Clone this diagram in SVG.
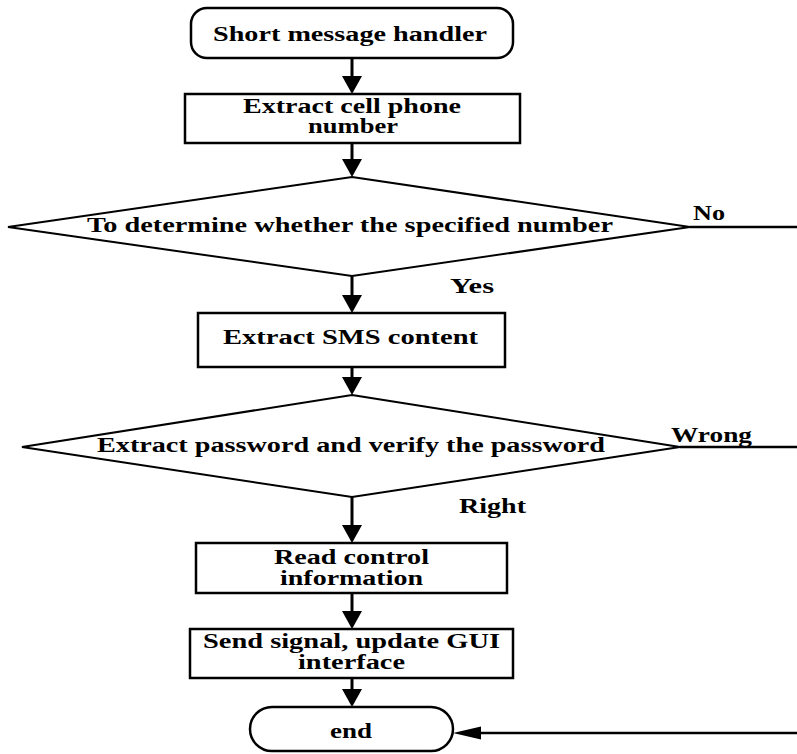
<svg xmlns="http://www.w3.org/2000/svg" width="797" height="754" viewBox="0 0 797 754">
<style>
.shape{fill:#fff;stroke:#000;stroke-width:2.5}
.dia{fill:#fff;stroke:#000;stroke-width:2}
.t{font-family:"Liberation Serif","Times New Roman",serif;font-weight:bold;font-size:20px;fill:#000}
.c{text-anchor:middle}
.conn{stroke:#000;stroke-width:3;fill:none}
.thin{stroke:#000;stroke-width:2.5;fill:none}
</style>
<defs>
<marker id="ah" markerUnits="userSpaceOnUse" markerWidth="20" markerHeight="22" refX="0" refY="10" orient="auto" overflow="visible">
<path d="M0,0 L18,10 L0,20 z" fill="#000"/>
</marker>
<marker id="ah2" markerUnits="userSpaceOnUse" markerWidth="30" markerHeight="14" refX="0" refY="6.5" orient="auto" overflow="visible">
<path d="M0,0 L28,6.5 L0,13 z" fill="#000"/>
</marker>
</defs>
<g id="connectors">
<line class="conn" x1="352" y1="58" x2="352" y2="76" marker-end="url(#ah)"/>
<line class="conn" x1="352" y1="143" x2="352" y2="159" marker-end="url(#ah)"/>
<line class="conn" x1="352" y1="276" x2="352" y2="295" marker-end="url(#ah)"/>
<line class="conn" x1="352" y1="367" x2="352" y2="377" marker-end="url(#ah)"/>
<line class="conn" x1="352" y1="497" x2="352" y2="525" marker-end="url(#ah)"/>
<line class="conn" x1="352" y1="593" x2="352" y2="611" marker-end="url(#ah)"/>
<line class="conn" x1="352" y1="678" x2="352" y2="689" marker-end="url(#ah)"/>
<line class="thin" x1="690" y1="227" x2="797" y2="227"/>
<line class="thin" x1="680" y1="447" x2="797" y2="447"/>
<line class="thin" x1="797" y1="733" x2="481" y2="733" marker-end="url(#ah2)"/>
<text class="t" x="693" y="220" textLength="32" lengthAdjust="spacingAndGlyphs">No</text>
<text class="t" x="450" y="293" textLength="44" lengthAdjust="spacingAndGlyphs">Yes</text>
<text class="t" x="671" y="442" textLength="81" lengthAdjust="spacingAndGlyphs">Wrong</text>
<text class="t" x="459" y="513" textLength="67" lengthAdjust="spacingAndGlyphs">Right</text>
</g>
<g id="start">
<rect class="shape" x="191" y="8" width="322" height="50" rx="16" ry="16"/>
<text class="t c" x="350" y="41" textLength="274" lengthAdjust="spacingAndGlyphs">Short message handler</text>
</g>
<g id="extract-number">
<rect class="shape" x="185" y="94" width="335" height="49"/>
<text class="t c" x="352" y="113" textLength="218" lengthAdjust="spacingAndGlyphs">Extract cell phone</text>
<text class="t c" x="353" y="133" textLength="90" lengthAdjust="spacingAndGlyphs">number</text>
</g>
<g id="check-number">
<polygon class="dia" points="352,177 690,227 352,276 8,227"/>
<text class="t c" x="350" y="232" textLength="526" lengthAdjust="spacingAndGlyphs">To determine whether the specified number</text>
</g>
<g id="extract-sms">
<rect class="shape" x="198" y="313" width="307" height="54"/>
<text class="t c" x="350.5" y="344" textLength="255" lengthAdjust="spacingAndGlyphs">Extract SMS content</text>
</g>
<g id="verify-password">
<polygon class="dia" points="352,395 680,447 352,497 22,447"/>
<text class="t c" x="351" y="452" textLength="508" lengthAdjust="spacingAndGlyphs">Extract password and verify the password</text>
</g>
<g id="read-control">
<rect class="shape" x="196" y="543" width="311" height="50"/>
<text class="t c" x="351.5" y="564" textLength="155" lengthAdjust="spacingAndGlyphs">Read control</text>
<text class="t c" x="351.5" y="585" textLength="143" lengthAdjust="spacingAndGlyphs">information</text>
</g>
<g id="send-signal">
<rect class="shape" x="190" y="629" width="323" height="49"/>
<text class="t c" x="351.5" y="648" textLength="297" lengthAdjust="spacingAndGlyphs">Send signal, update GUI</text>
<text class="t c" x="351.5" y="669" textLength="107" lengthAdjust="spacingAndGlyphs">interface</text>
</g>
<g id="end">
<rect class="shape" x="250" y="707" width="203" height="44" rx="22" ry="22"/>
<text class="t c" x="351" y="738" textLength="42" lengthAdjust="spacingAndGlyphs">end</text>
</g>
</svg>
